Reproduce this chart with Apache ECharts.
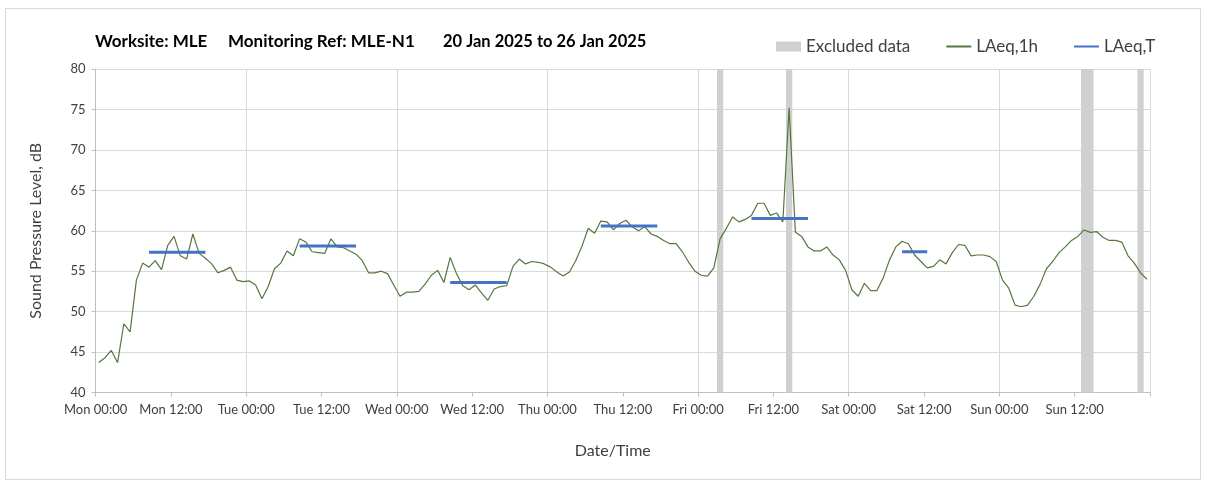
<!DOCTYPE html>
<html><head><meta charset="utf-8">
<script src="https://cdn.jsdelivr.net/npm/echarts@6/dist/echarts.min.js"></script>
<style>html,body{margin:0;padding:0;background:#fff}#c{width:1208px;height:481px}</style>
</head><body><div id="c"></div>
<script>
const tickLabels = ['Mon 00:00','Mon 12:00','Tue 00:00','Tue 12:00','Wed 00:00','Wed 12:00','Thu 00:00','Thu 12:00','Fri 00:00','Fri 12:00','Sat 00:00','Sat 12:00','Sun 00:00','Sun 12:00',''];
// hourly LAeq,1h values, Mon 00:00 .. Sun 23:00 (plotted at interval midpoint)
const laeq1h = [
  43.7, 44.3, 45.2, 43.7, 48.5, 47.5, 53.9, 56.0, 55.5, 56.3,
  55.2, 58.2, 59.3, 56.9, 56.5, 59.6, 57.2, 56.6, 55.9, 54.8,
  55.1, 55.5, 53.9, 53.7, 53.8, 53.3, 51.6, 53.1, 55.3, 56.0,
  57.5, 56.9, 59.0, 58.6, 57.4, 57.3, 57.2, 59.0, 58.0, 57.9,
  57.5, 57.1, 56.3, 54.8, 54.8, 55.0, 54.7, 53.3, 51.9, 52.4,
  52.4, 52.5, 53.4, 54.5, 55.1, 53.6, 56.7, 54.7, 53.2, 52.7,
  53.3, 52.3, 51.4, 52.8, 53.1, 53.2, 55.6, 56.5, 55.9, 56.2,
  56.1, 55.9, 55.5, 54.9, 54.4, 54.9, 56.3, 58.1, 60.3, 59.7,
  61.2, 61.1, 60.1, 60.9, 61.3, 60.5, 60.0, 60.5, 59.6, 59.3,
  58.8, 58.4, 58.4, 57.4, 56.1, 55.0, 54.5, 54.4, 55.4, 59.0,
  60.3, 61.7, 61.1, 61.4, 61.9, 63.4, 63.4, 61.9, 62.2, 61.1,
  75.2, 59.8, 59.3, 58.0, 57.5, 57.5, 58.0, 57.0, 56.4, 55.1,
  52.7, 51.9, 53.5, 52.6, 52.6, 54.2, 56.4, 58.0, 58.7, 58.4,
  57.0, 56.2, 55.4, 55.6, 56.4, 55.9, 57.3, 58.3, 58.2, 56.9,
  57.0, 57.0, 56.8, 56.2, 53.9, 52.9, 50.8, 50.6, 50.8, 51.9,
  53.4, 55.3, 56.2, 57.3, 58.0, 58.8, 59.3, 60.1, 59.8, 59.9,
  59.2, 58.8, 58.8, 58.6, 56.9, 56.0, 54.8, 54.0
];
// LAeq,T periods (hours from Mon 00:00)
const periodStart = [8.5, 32.5, 56.5, 80.5, 104.5, 128.5];
const periodEnd   = [17.5, 41.5, 65.5, 89.5, 113.5, 132.5];
const periodLevel = [57.35, 58.1, 53.6, 60.6, 61.5, 57.4];
// excluded data (hours from Mon 00:00)
const excludedStart = [99, 110, 157, 166];
const excludedEnd   = [100, 111, 159, 167];

const FONT = 'Lato';
const lineData = laeq1h.map((v, i) => [i + 0.5, v]);
const tData = [];
periodStart.forEach((s, k) => {
  tData.push([s, periodLevel[k]], [periodEnd[k], periodLevel[k]]);
  if (k < periodStart.length - 1) tData.push(['-', '-']);
});
const exclAreas = excludedStart.map((s, k) => [{xAxis: s}, {xAxis: excludedEnd[k]}]);

const chart = echarts.init(document.getElementById('c'), null, {renderer: 'canvas'});
chart.setOption({
  animation: false,
  backgroundColor: '#fff',
  textStyle: {fontFamily: FONT},
  grid: {left: 95.6, right: 58, top: 69, bottom: 88.5},
  graphic: [
    {type: 'rect', shape: {x: 5.5, y: 8.5, width: 1195, height: 471}, style: {fill: 'none', stroke: '#d9d9d9', lineWidth: 1}, silent: true},
    {type: 'text', left: 95, top: 33, style: {text: 'Worksite: MLE', font: 'bold 17px ' + FONT, fill: '#000'}},
    {type: 'text', left: 228, top: 33, style: {text: 'Monitoring Ref: MLE-N1', font: 'bold 17px ' + FONT, fill: '#000'}},
    {type: 'text', left: 443, top: 33, style: {text: '20 Jan 2025 to 26 Jan 2025', font: 'bold 16.5px ' + FONT, fill: '#000'}}
  ],
  legend: {
    left: 771, top: 33,
    itemWidth: 25, itemHeight: 10, itemGap: 35,
    textStyle: {fontFamily: FONT, fontSize: 17, color: '#404040'},
    data: [
      {name: 'Excluded data', icon: 'rect'},
      {name: 'LAeq,1h', itemStyle: {opacity: 0}},
      {name: 'LAeq,T', itemStyle: {opacity: 0}}
    ]
  },
  xAxis: [
    {
      type: 'value', min: 0, max: 168, interval: 12,
      name: 'Date/Time', nameLocation: 'middle', nameGap: 50,
      nameTextStyle: {fontFamily: FONT, fontSize: 16, color: '#404040', padding: [0, 20, 0, 0]},
      axisLine: {lineStyle: {color: '#bfbfbf'}},
      axisTick: {show: true, length: 4, lineStyle: {color: '#bfbfbf'}},
      axisLabel: {fontFamily: FONT, fontSize: 13, color: '#404040', margin: 11,
        formatter: v => tickLabels[Math.round(v / 12)] || ''},
      splitLine: {show: false}
    },
    {
      type: 'value', min: 0, max: 168, interval: 24, position: 'bottom',
      axisLine: {show: false}, axisTick: {show: false}, axisLabel: {show: false},
      splitLine: {show: true, lineStyle: {color: '#d9d9d9', width: 1}}
    }
  ],
  yAxis: {
    type: 'value', min: 40, max: 80, interval: 5,
    name: 'Sound Pressure Level, dB', nameLocation: 'middle', nameGap: 52,
    nameTextStyle: {fontFamily: FONT, fontSize: 16, color: '#404040'},
    axisLine: {show: true, lineStyle: {color: '#bfbfbf'}},
    axisTick: {show: true, length: 4, lineStyle: {color: '#bfbfbf'}},
    axisLabel: {fontFamily: FONT, fontSize: 13, color: '#404040', margin: 10},
    splitLine: {show: true, lineStyle: {color: '#d9d9d9', width: 1}}
  },
  series: [
    {
      name: 'Excluded data', type: 'line', data: [], symbol: 'none',
      itemStyle: {color: '#d0d0d0'}, lineStyle: {color: '#d0d0d0'},
      markArea: {silent: true, itemStyle: {color: '#d0d0d0'}, data: exclAreas}
    },
    {
      name: 'LAeq,1h', type: 'line', data: lineData, symbol: 'none',
      itemStyle: {color: '#55773f'}, lineStyle: {color: '#55773f', width: 1.2}, z: 3
    },
    {
      name: 'LAeq,T', type: 'line', data: tData, symbol: 'none', connectNulls: false,
      itemStyle: {color: '#4472c4'}, lineStyle: {color: '#4472c4', width: 3}, z: 4
    }
  ]
});
</script></body></html>
